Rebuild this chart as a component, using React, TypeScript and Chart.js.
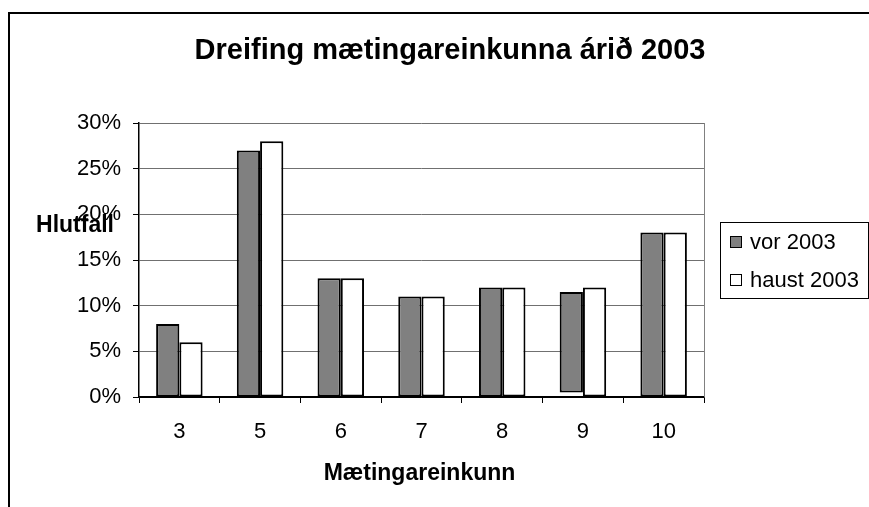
import React, { useEffect, useRef } from "react";
import { Chart, registerables } from "chart.js";

Chart.register(...registerables);

const chartTitle = "Dreifing mætingareinkunna árið 2003";
const xAxisTitle = "Mætingareinkunn";
const yAxisTitle = "Hlutfall";
const categories = ["3", "5", "6", "7", "8", "9", "10"];
const seriesLabels = ["vor 2003", "haust 2003"];
const vorValues = [8, 27, 13, 11, 12, 11.5, 18];
const vorStarts = [0, 0, 0, 0, 0, 0.5, 0];
const haustValues = [6, 28, 13, 11, 12, 12, 18];
const yMax = 30;
const yStep = 5;
const seriesColors = ["#808080", "#ffffff"];

const FONT = "'Liberation Sans', Arial, sans-serif";

const decorPlugin = {
  id: "decor",
  afterDraw(chart: any) {
    const ctx = chart.ctx as CanvasRenderingContext2D;
    const a = chart.chartArea;
    ctx.save();
    // outer frame
    ctx.strokeStyle = "#000";
    ctx.lineWidth = 2;
    ctx.strokeRect(9, 13, 1000, 1000);
    // plot right border
    ctx.strokeStyle = "#808080";
    ctx.lineWidth = 1;
    ctx.beginPath();
    ctx.moveTo(Math.round(a.right) + 0.5, a.top);
    ctx.lineTo(Math.round(a.right) + 0.5, a.bottom);
    ctx.stroke();
    // title
    ctx.fillStyle = "#000";
    ctx.textBaseline = "middle";
    ctx.textAlign = "center";
    ctx.font = `bold 29px ${FONT}`;
    ctx.fillText(chartTitle, 450, 51);
    // x axis title
    ctx.font = `bold 23px ${FONT}`;
    ctx.fillText(xAxisTitle, (a.left + a.right) / 2 - 2, 474);
    // y axis title
    ctx.textAlign = "right";
    ctx.fillText(yAxisTitle, 114, 226);
    // legend
    const lx = 720, ly = 222, lw = 148, lh = 76;
    ctx.strokeStyle = "#000";
    ctx.lineWidth = 1;
    ctx.strokeRect(lx + 0.5, ly + 0.5, lw, lh);
    ctx.font = `22px ${FONT}`;
    ctx.textAlign = "left";
    const rows = [242, 280];
    chart.data.datasets.forEach((ds: any, i: number) => {
      const cy = rows[i];
      ctx.fillStyle = ds.backgroundColor;
      ctx.fillRect(731, cy - 5, 11, 11);
      ctx.strokeStyle = "#000";
      ctx.lineWidth = 1;
      ctx.strokeRect(730.5, cy - 5.5, 11, 11);
      ctx.fillStyle = "#000";
      ctx.fillText(ds.label, 750, cy + 1);
    });
    ctx.restore();
  },
};

export default function App() {
  const ref = useRef<HTMLCanvasElement | null>(null);
  useEffect(() => {
    if (!ref.current) return;
    const vorData = vorValues.map((v, i) => (vorStarts[i] ? [vorStarts[i], v] : v));
    const chart = new Chart(ref.current, {
      type: "bar",
      data: {
        labels: categories,
        datasets: [
          {
            label: seriesLabels[0],
            data: vorData as any,
            backgroundColor: seriesColors[0],
            borderColor: "#000",
            borderWidth: 2,
            borderSkipped: false,
            categoryPercentage: 0.576,
            barPercentage: 1.0,
          },
          {
            label: seriesLabels[1],
            data: haustValues,
            backgroundColor: seriesColors[1],
            borderColor: "#000",
            borderWidth: 2,
            borderSkipped: false,
            categoryPercentage: 0.576,
            barPercentage: 1.0,
          },
        ],
      },
      options: {
        responsive: false,
        animation: false,
        devicePixelRatio: 1,
        layout: { padding: { top: 123, right: 165, left: 0, bottom: 0 } },
        plugins: {
          legend: { display: false },
          title: { display: false },
          tooltip: { enabled: false },
        },
        scales: {
          x: {
            afterFit: (s: any) => {
              s.height = 110;
            },
            grid: {
              offset: true,
              drawOnChartArea: false,
              drawTicks: true,
              tickLength: 6,
              tickColor: "#000",
            },
            border: { color: "#000", width: 1.5 },
            ticks: {
              color: "#000",
              font: { family: FONT, size: 22 },
              padding: 16,
              maxRotation: 0,
            },
          },
          y: {
            min: 0,
            max: yMax,
            afterFit: (s: any) => {
              s.width = 139;
            },
            grid: {
              color: (c: any) => (c.index === 0 ? "#000" : "#707070"),
              tickColor: "#000",
              tickLength: 6,
              drawTicks: true,
            },
            border: { color: "#000", width: 1.5 },
            ticks: {
              stepSize: yStep,
              color: "#000",
              font: { family: FONT, size: 22 },
              padding: 12,
              callback: (v: any) => `${v}%`,
            },
          },
        },
      },
      plugins: [decorPlugin],
    });
    return () => chart.destroy();
  }, []);
  return (
    <div style={{ position: "fixed", left: 0, top: 0, width: 869, height: 507, background: "#fff" }}>
      <canvas ref={ref} width={869} height={507} style={{ display: "block" }} />
    </div>
  );
}
